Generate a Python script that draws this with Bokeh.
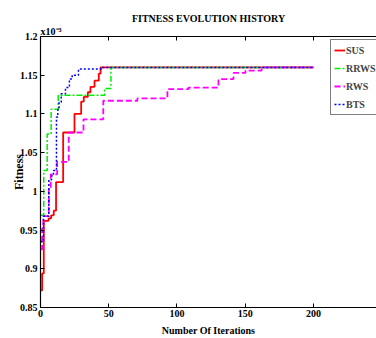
from bokeh.plotting import figure
from bokeh.models import (Range1d, FixedTicker, LinearAxis, Legend, LegendItem, Title)
from bokeh.embed import file_html
from bokeh.resources import INLINE

# ---- data (fitness in units of 1e-3) ----
sus_iter = [0, 1.2, 2.4, 5.9, 7.8, 9.7, 11.4, 16.6, 24.9, 29.8, 31.7, 34.7, 36.6, 39.6, 42.7, 44, 200]
sus_fit = [0.872, 0.894, 0.962, 0.965, 0.969, 0.975, 1.012, 1.076, 1.100, 1.116, 1.122, 1.128, 1.135, 1.143, 1.152, 1.160, 1.160]

rrws_iter = [0, 2.4, 4.9, 7.8, 13.0, 47.0, 51.6, 200]
rrws_fit = [0.969, 1.027, 1.074, 1.106, 1.124, 1.133, 1.160, 1.160]

rws_iter = [0, 1.2, 2.1, 6.1, 7.5, 12.2, 20.7, 31.5, 46.0, 71.0, 93.0, 108.4, 130.4, 141.4, 150.2, 162.0, 200]
rws_fit = [0.925, 0.952, 0.968, 1.005, 1.022, 1.038, 1.076, 1.093, 1.117, 1.120, 1.132, 1.134, 1.145, 1.153, 1.156, 1.160, 1.160]

bts_iter = [0, 2.2, 6.1, 8.1, 9.5, 11.7, 12.7, 13.6, 15.2, 18.3, 21.2, 23.2, 27.8, 44.7, 200]
bts_fit = [0.935, 0.968, 1.015, 1.020, 1.027, 1.096, 1.107, 1.115, 1.126, 1.134, 1.145, 1.150, 1.158, 1.160, 1.160]

x_ticks = [0, 50, 100, 150, 200, 250]
y_ticks = [0.85, 0.9, 0.95, 1.0, 1.05, 1.1, 1.15, 1.2]
y_tick_labels = ["0.85", "0.9", "0.95", "1", "1.05", "1.1", "1.15", "1.2"]

FONT = "Liberation Serif"

p = figure(width=376, height=338, output_backend="svg", toolbar_location=None,
           x_range=Range1d(0, 246.2), y_range=Range1d(0.85, 1.2),
           min_border_left=40, min_border_right=0, min_border_top=36, min_border_bottom=31)
p.outline_line_color = None
p.grid.visible = False
p.background_fill_color = "white"
p.border_fill_color = "white"

for ax in (p.xaxis[0], p.yaxis[0]):
    ax.major_tick_in = 4
    ax.major_tick_out = 0
    ax.minor_tick_in = 0
    ax.minor_tick_out = 0
    ax.axis_line_color = "black"
    ax.axis_line_width = 1.2
    ax.major_tick_line_color = "black"
    ax.major_label_text_font = FONT
    ax.major_label_text_font_style = "bold"
    ax.major_label_text_font_size = "10px"
    ax.major_label_text_color = "black"
    ax.major_label_standoff = 3
    ax.axis_label_text_font = FONT
    ax.axis_label_text_font_style = "bold"
    ax.axis_label_text_color = "black"

p.xaxis[0].ticker = FixedTicker(ticks=x_ticks)
p.yaxis[0].ticker = FixedTicker(ticks=y_ticks)
p.yaxis[0].major_label_overrides = dict(zip(y_ticks, y_tick_labels))
p.xaxis[0].major_label_standoff = 2
p.xaxis[0].axis_label = "Number Of Iterations"
p.xaxis[0].axis_label_text_font_size = "10px"
p.xaxis[0].axis_label_standoff = 5
p.yaxis[0].axis_label = "Fitness"
p.yaxis[0].axis_label_text_font_size = "12px"
p.yaxis[0].axis_label_standoff = -9

top = LinearAxis(ticker=FixedTicker(ticks=x_ticks), major_tick_in=4, major_tick_out=0,
                 minor_tick_in=0, minor_tick_out=0, major_label_text_font_size="1px",
                 major_label_text_color=None, major_label_standoff=0,
                 axis_line_color="black", axis_line_width=1.2)
p.add_layout(top, "above")

sub = Title(text="x10\u207b\u00b3", align="left", text_font=FONT, text_font_style="bold",
            text_font_size="10px", text_color="black", standoff=0, offset=0)
p.add_layout(sub, "above")

p.title.text = "FITNESS EVOLUTION HISTORY"
p.title.align = "center"
p.title.text_font = FONT
p.title.text_font_style = "bold"
p.title.text_font_size = "10px"
p.title.text_color = "black"
p.title.standoff = 0

r_sus = p.step(sus_iter, sus_fit, mode="after", line_color="#ff0000", line_width=1.8)
r_rrws = p.step(rrws_iter, rrws_fit, mode="after", line_color="#00ee00", line_width=1.5,
                line_dash="6 2 2 2")
r_rws = p.step(rws_iter, rws_fit, mode="after", line_color="#ff00ff", line_width=1.8,
               line_dash="6 3")
r_bts = p.step(bts_iter, bts_fit, mode="after", line_color="#0000ff", line_width=1.5,
               line_dash="2 2")

legend = Legend(items=[LegendItem(label="SUS", renderers=[r_sus]),
                       LegendItem(label="RRWS", renderers=[r_rrws]),
                       LegendItem(label="RWS", renderers=[r_rws]),
                       LegendItem(label="BTS", renderers=[r_bts])],
                location=(290, 192), padding=3, spacing=4, margin=0,
                label_height=14, glyph_height=14, glyph_width=11, label_standoff=1,
                label_text_font=FONT, label_text_font_style="bold", label_text_font_size="10px",
                border_line_color="black", border_line_width=1,
                background_fill_color="white", background_fill_alpha=1.0)
p.add_layout(legend)

open("out.html", "w").write(file_html(p, INLINE))
